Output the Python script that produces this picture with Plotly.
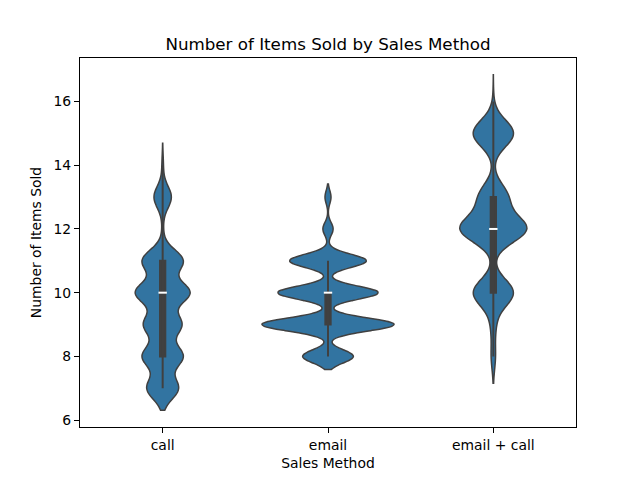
import numpy as np
import plotly.graph_objects as go

# ---- data ----
methods = ["call", "email", "email + call"]
items_values = [7, 8, 9, 10, 11, 12, 13, 14, 15, 16]
call_counts = [308, 396, 368, 528, 398, 12, 170, 14, 0, 0]
email_counts = [0, 760, 1980, 1503, 1149, 153, 90, 0, 0, 0]
email_call_counts = [0, 38, 42, 362, 6, 594, 256, 2, 366, 6]
kde_bandwidths = [0.345, 0.205, 0.42]

title_text = "Number of Items Sold by Sales Method"
x_title = "Sales Method"
y_title = "Number of Items Sold"
y_ticks = [6, 8, 10, 12, 14, 16]

FILL = "#3274a1"
DARK = "#404040"
FONT = "DejaVu Sans"
MAX_WIDTH = 0.8

groups = [call_counts, email_counts, email_call_counts]
samples = [np.repeat(items_values, c) for c in groups]


def kde_peak(vals, bw):
    # peak of the normalised Gaussian KDE (each density integrates to 1)
    grid = np.linspace(vals.min() - 2 * bw, vals.max() + 2 * bw, 2000)
    u, cnt = np.unique(vals, return_counts=True)
    dens = (cnt[None, :] * np.exp(-0.5 * ((grid[:, None] - u[None, :]) / bw) ** 2)).sum(1)
    dens /= len(vals) * bw * np.sqrt(2 * np.pi)
    return dens.max()


peaks = [kde_peak(s, bw) for s, bw in zip(samples, kde_bandwidths)]
widths = [MAX_WIDTH * p / max(peaks) for p in peaks]  # seaborn "area" normalisation

fig = go.Figure()
for i, (m, y, bw, w) in enumerate(zip(methods, samples, kde_bandwidths, widths)):
    fig.add_trace(go.Violin(
        x=[m] * len(y), y=y, name=m,
        bandwidth=bw, spanmode="soft",
        scalegroup="g%d" % i, scalemode="width", width=w,
        fillcolor=FILL, opacity=1,
        line=dict(color=DARK, width=1.5),
        points=False,
        box=dict(visible=True, width=0.032 / w, fillcolor=DARK,
                 line=dict(color=DARK, width=2)),
        meanline=dict(visible=False),
        showlegend=False, hoveron="violins",
    ))

# white median marks
fig.add_trace(go.Scatter(
    x=methods, y=[float(np.median(s)) for s in samples],
    mode="markers", showlegend=False, hoverinfo="skip",
    marker=dict(symbol="line-ew", size=6, color="white",
                line=dict(color="white", width=2)),
))

# y range: violin extents (min/max +- 2 bandwidths) with 5% padding
lo = min(s.min() - 2 * bw for s, bw in zip(samples, kde_bandwidths))
hi = max(s.max() + 2 * bw for s, bw in zip(samples, kde_bandwidths))
pad = 0.05 * (hi - lo)

fig.update_layout(
    width=640, height=480,
    margin=dict(l=80, r=64, t=58, b=53),
    paper_bgcolor="white", plot_bgcolor="white",
    violinmode="overlay",
    font=dict(family=FONT, size=13.9, color="black"),
    title=dict(text=title_text, x=0.5, xref="paper", xanchor="center",
               y=(480 - 44) / 480, yref="container", yanchor="middle",
               font=dict(family=FONT, size=16.7, color="black")),
)
fig.update_xaxes(
    type="category", categoryorder="array", categoryarray=methods,
    range=[-0.5, len(methods) - 0.5],
    showline=True, mirror=True, linecolor="black", linewidth=1.1,
    ticks="outside", ticklen=5, tickwidth=1.1, tickcolor="black",
    showgrid=False, zeroline=False,
    title=dict(text=x_title, standoff=6, font=dict(size=13.9)),
)
fig.update_yaxes(
    range=[lo - pad, hi + pad], tickvals=y_ticks,
    showline=True, mirror=True, linecolor="black", linewidth=1.1,
    ticks="outside", ticklen=5, tickwidth=1.1, tickcolor="black",
    showgrid=False, zeroline=False,
    title=dict(text=y_title, standoff=8, font=dict(size=13.9)),
)

fig.write_html("out.html")
